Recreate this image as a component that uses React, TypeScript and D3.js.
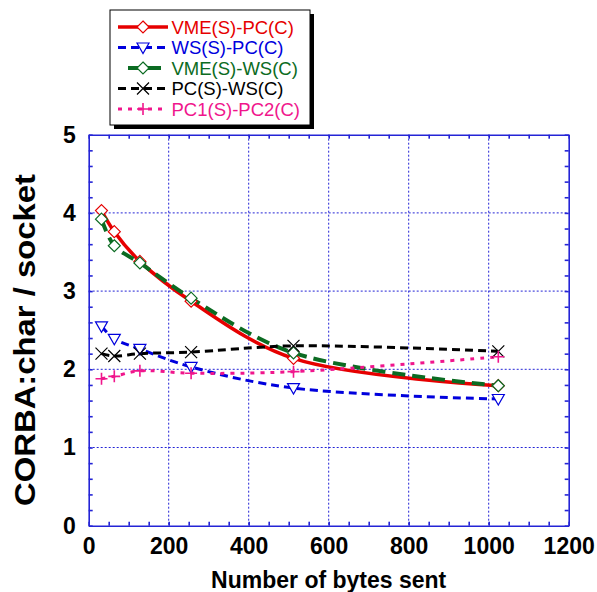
import React from "react";
import * as d3 from "d3";

// message size (bytes) on x, CORBA:char / socket ratio on y
const bytesSent = [32, 64, 128, 256, 512, 1024];
const vmeSPcC = [4.03, 3.76, 3.38, 2.87, 2.14, 1.79];
const wsSPcC = [2.55, 2.39, 2.26, 2.03, 1.76, 1.62];
const vmeSWsC = [3.92, 3.58, 3.36, 2.91, 2.21, 1.79];
const pcSWsC = [2.2, 2.17, 2.2, 2.22, 2.3, 2.23];
const pc1SPc2C = [1.88, 1.91, 1.98, 1.95, 1.97, 2.16];

const seriesNames = ["VME(S)-PC(C)", "WS(S)-PC(C)", "VME(S)-WS(C)", "PC(S)-WS(C)", "PC1(S)-PC2(C)"];
const xTicks = [0, 200, 400, 600, 800, 1000, 1200];
const yTicks = [0, 1, 2, 3, 4, 5];

const W = 597, H = 592;
const FONT = "'Liberation Sans', Arial, Helvetica, sans-serif";
const AXIS_BLUE = "#2424d6";

type Style = { color: string; width: number; dash: string | null; marker: string; markerColor: string };

const styles: Style[] = [
  { color: "#e60000", width: 3.5, dash: null, marker: "diamond", markerColor: "#e60000" },
  { color: "#0000dd", width: 3, dash: "8,5", marker: "triangle", markerColor: "#0000dd" },
  { color: "#0b6b22", width: 4, dash: "13,7", marker: "diamond", markerColor: "#0b6b22" },
  { color: "#000000", width: 3, dash: "8,5", marker: "cross", markerColor: "#000000" },
  { color: "#f0168c", width: 3, dash: "4,6", marker: "plus", markerColor: "#f0168c" },
];

class App extends React.Component {
  svgRef = React.createRef<SVGSVGElement>();

  componentDidMount() {
    this.d3Render();
  }

  d3Render() {
    const svg = d3.select(this.svgRef.current);
    svg.selectAll("*").remove();

    const x = d3.scaleLinear().domain([0, 1200]).range([88.7, 568.7]);
    const y = d3.scaleLinear().domain([0, 5]).range([525.7, 134.7]);
    const [left, right] = x.range();

    this.drawGrid(svg, x, y);
    this.drawAxes(svg, x, y);

    const allSeries = [vmeSPcC, wsSPcC, vmeSWsC, pcSWsC, pc1SPc2C];
    const line = d3.line<number>()
      .x((_, i) => x(bytesSent[i]))
      .y(d => y(d))
      .curve(d3.curveCatmullRom.alpha(0.5));

    allSeries.forEach((vals, k) => {
      const st = styles[k];
      svg.append("path")
        .attr("d", line(vals))
        .attr("fill", "none")
        .attr("stroke", st.color)
        .attr("stroke-width", st.width)
        .attr("stroke-dasharray", st.dash)
        .attr("stroke-linejoin", "round");
    });

    allSeries.forEach((vals, k) => {
      vals.forEach((v, i) => this.drawMarker(svg, styles[k], x(bytesSent[i]), y(v)));
    });

    // axis titles
    svg.append("text")
      .attr("x", (left + right) / 2)
      .attr("y", 588)
      .attr("text-anchor", "middle")
      .style("font", `bold 23px ${FONT}`)
      .text("Number of bytes sent");

    svg.append("text")
      .attr("transform", "translate(35,340) rotate(-90)")
      .attr("text-anchor", "middle")
      .attr("textLength", 332)
      .attr("lengthAdjust", "spacingAndGlyphs")
      .style("font", `bold 29px ${FONT}`)
      .text("CORBA:char / socket");

    this.drawLegend(svg);
  }

  drawGrid(svg: any, x: any, y: any) {
    const [left, right] = x.range();
    const [bottom, top] = y.range();
    const g = svg.append("g")
      .attr("stroke", AXIS_BLUE)
      .attr("stroke-width", 1)
      .attr("stroke-dasharray", "2,2");

    g.selectAll(".vg")
      .data(xTicks.slice(1, -1))
      .enter().append("line")
      .attr("x1", (d: number) => x(d)).attr("x2", (d: number) => x(d))
      .attr("y1", top).attr("y2", bottom);

    g.selectAll(".hg")
      .data(yTicks.slice(1, -1))
      .enter().append("line")
      .attr("x1", left).attr("x2", right)
      .attr("y1", (d: number) => y(d)).attr("y2", (d: number) => y(d));
  }

  drawAxes(svg: any, x: any, y: any) {
    const [left, right] = x.range();
    const [bottom, top] = y.range();
    const minorX = d3.range(0, 1201, 50);
    const minorY = d3.range(0, 26).map(i => i * 0.2);
    const blank = () => "";

    const frame = [
      { axis: d3.axisBottom(x).tickValues(minorX), t: `translate(0,${bottom})` },
      { axis: d3.axisTop(x).tickValues(minorX), t: `translate(0,${top})` },
      { axis: d3.axisLeft(y).tickValues(minorY), t: `translate(${left},0)` },
      { axis: d3.axisRight(y).tickValues(minorY), t: `translate(${right},0)` },
    ];
    frame.forEach(f => {
      const g = svg.append("g")
        .attr("transform", f.t)
        .call(f.axis.tickSize(-4).tickSizeOuter(0).tickFormat(blank as any));
      g.selectAll("path, line").attr("stroke", AXIS_BLUE).attr("stroke-width", 1.6);
    });

    const xl = svg.append("g")
      .attr("transform", `translate(0,${bottom})`)
      .call(d3.axisBottom(x).tickValues(xTicks).tickSize(0).tickPadding(12).tickFormat(d3.format("d")));
    xl.select(".domain").remove();
    xl.selectAll("text").style("font", `bold 23px ${FONT}`).attr("fill", "#000");

    const yl = svg.append("g")
      .attr("transform", `translate(${left},0)`)
      .call(d3.axisLeft(y).tickValues(yTicks).tickSize(0).tickPadding(13).tickFormat(d3.format("d")));
    yl.select(".domain").remove();
    yl.selectAll("text").style("font", `bold 23px ${FONT}`).attr("fill", "#000");
  }

  drawMarker(svg: any, st: Style, cx: number, cy: number) {
    const g = svg.append("g")
      .attr("transform", `translate(${cx},${cy})`)
      .attr("fill", "none")
      .attr("stroke", st.markerColor)
      .attr("stroke-width", 1.2);
    if (st.marker === "diamond") {
      g.append("path").attr("d", "M0,-6L6,0L0,6L-6,0Z").attr("fill", "#fff");
    } else if (st.marker === "triangle") {
      g.append("path").attr("d", "M-6,-4.5L6,-4.5L0,6Z").attr("fill", "#fff");
    } else if (st.marker === "cross") {
      g.append("path").attr("d", "M-6,-6L6,6M-6,6L6,-6");
    } else {
      g.append("path").attr("d", "M-6,0L6,0M0,-6L0,6").attr("stroke-width", 1.6);
    }
  }

  drawLegend(svg: any) {
    const bx = 110, by = 10, bw = 200, bh = 115;
    svg.append("rect")
      .attr("x", bx + 4).attr("y", by + 4)
      .attr("width", bw).attr("height", bh)
      .attr("fill", "#000");
    svg.append("rect")
      .attr("x", bx).attr("y", by)
      .attr("width", bw).attr("height", bh)
      .attr("fill", "#fff")
      .attr("stroke", "#000")
      .attr("stroke-width", 1);

    seriesNames.forEach((name, k) => {
      const st = styles[k];
      const cy = 27 + k * 20.5;
      svg.append("line")
        .attr("x1", k === 2 ? 128 : 118).attr("x2", 168)
        .attr("y1", cy).attr("y2", cy)
        .attr("stroke", st.color)
        .attr("stroke-width", st.width)
        .attr("stroke-dasharray", st.dash);
      this.drawMarker(svg, st, 143, cy);
      svg.append("text")
        .attr("x", 171.5)
        .attr("y", cy + 6.7)
        .attr("fill", st.color)
        .style("font", `18.5px ${FONT}`)
        .text(name);
    });
  }

  render() {
    return (
      <svg
        ref={this.svgRef}
        width={W}
        height={H}
        style={{ position: "absolute", left: 0, top: 0, background: "#fff" }}
      />
    );
  }
}

export default App;
